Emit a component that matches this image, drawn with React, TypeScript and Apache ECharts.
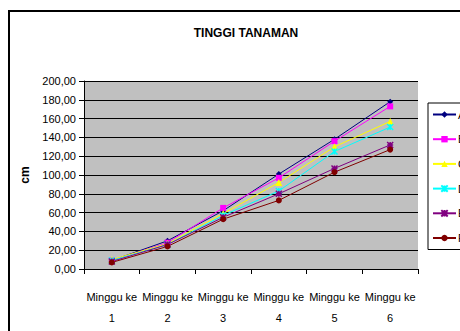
import React, { useEffect, useRef } from "react";
import * as echarts from "echarts";

const categories = ["Minggu ke\n1", "Minggu ke\n2", "Minggu ke\n3", "Minggu ke\n4", "Minggu ke\n5", "Minggu ke\n6"];
const seriesNames = ["A", "B", "C", "D", "E", "F"];
const seriesA = [9, 30, 62, 101, 138, 178];
const seriesB = [9, 28, 65, 97, 136, 173];
const seriesC = [10, 27, 59, 92, 130, 157];
const seriesD = [9, 26, 57, 83, 125, 151];
const seriesE = [8, 26, 55, 80, 107, 132];
const seriesF = [7, 24, 53, 73, 103, 127];
const seriesValues = [seriesA, seriesB, seriesC, seriesD, seriesE, seriesF];
const colors = ["#000080", "#FF00FF", "#FFFF00", "#00FFFF", "#800080", "#800000"];
const symbols = ["diamond", "rect", "triangle", "path://M0,0L10,10M10,0L0,10M5,0L5,10", "path://M0,0L10,10M10,0L0,10M5,0L5,10M0,5L10,5", "circle"];
const symbolSizes = [6, 6, 7, 6, 6, 6];

const FONT = "Liberation Sans, Arial, sans-serif";

export default function App() {
  const ref = useRef<HTMLDivElement>(null);
  useEffect(() => {
    if (!ref.current) return;
    const chart = echarts.init(ref.current, null, { renderer: "svg" });
    const option: any = {
      animation: false,
      backgroundColor: "#ffffff",
      textStyle: { fontFamily: FONT },
      title: {
        text: "TINGGI TANAMAN",
        left: 241,
        top: 22,
        textAlign: "center",
        textStyle: { fontFamily: FONT, fontSize: 12, fontWeight: "bold", color: "#000" },
      },
      graphic: [
        {
          type: "polyline",
          shape: { points: [[9, 340], [9, 11], [470, 11]] },
          style: { stroke: "#000", lineWidth: 2, fill: "none" },
          z: 0,
        },
      ],
      grid: { left: 84, top: 81, width: 334, height: 188, backgroundColor: "#C0C0C0", show: true, borderWidth: 0 },
      legend: {
        orient: "vertical",
        left: 428,
        top: 103,
        padding: [6, 8, 6, 4],
        itemGap: 13.7,
        itemWidth: 23,
        itemHeight: 8,
        borderColor: "#000",
        borderWidth: 1,
        data: seriesNames,
        textStyle: { fontFamily: FONT, fontSize: 11, color: "#000", padding: [0, 0, 0, -3] },
      },
      xAxis: {
        type: "category",
        data: categories,
        boundaryGap: true,
        axisLine: { show: true, lineStyle: { color: "#000", width: 1 } },
        axisTick: { show: true, length: 5, lineStyle: { color: "#000" }, alignWithLabel: false },
        axisLabel: { color: "#000", fontFamily: FONT, fontSize: 11, lineHeight: 21, margin: 17, interval: 0 },
        splitLine: { show: false },
      },
      yAxis: {
        type: "value",
        min: 0,
        max: 200,
        interval: 20,
        name: "cm",
        nameLocation: "middle",
        nameRotate: 90,
        nameGap: 48,
        nameTextStyle: { fontFamily: FONT, fontSize: 12, fontWeight: "bold", color: "#000" },
        axisLine: { show: true, lineStyle: { color: "#000", width: 1 } },
        axisTick: { show: true, length: 5, lineStyle: { color: "#000" } },
        axisLabel: {
          color: "#000",
          fontFamily: FONT,
          fontSize: 11,
          margin: 8,
          formatter: (v: number) => v.toFixed(2).replace(".", ","),
        },
        splitLine: { show: true, lineStyle: { color: "#000", width: 1 } },
      },
      series: seriesNames.map((name, i) => ({
        name,
        type: "line",
        data: seriesValues[i],
        symbol: symbols[i],
        symbolSize: symbolSizes[i],
        showAllSymbol: true,
        lineStyle: { color: colors[i], width: 1 },
        itemStyle: {
          color: colors[i],
          borderColor: colors[i],
          borderWidth: i === 3 || i === 4 ? 1.5 : 0,
        },
        emphasis: { disabled: true },
      })),
    };
    chart.setOption(option);
    return () => chart.dispose();
  }, []);
  return <div ref={ref} style={{ position: "fixed", left: 0, top: 0, width: 460, height: 331 }} />;
}
